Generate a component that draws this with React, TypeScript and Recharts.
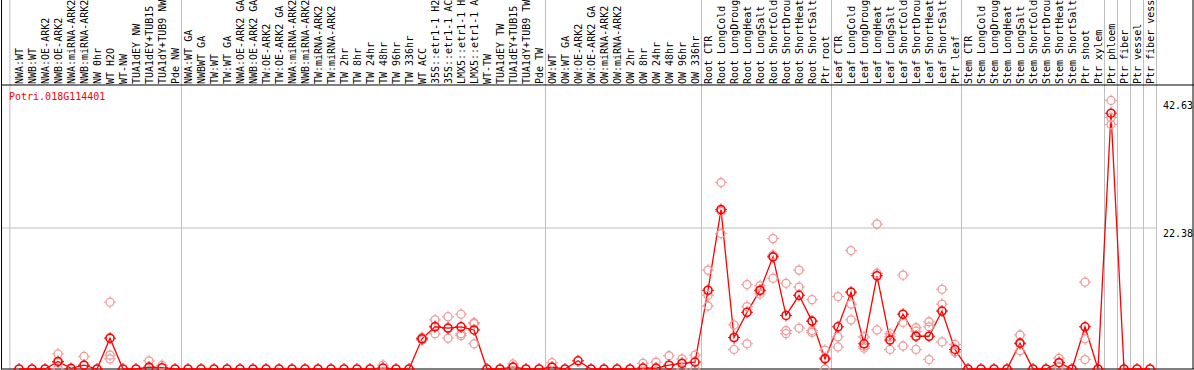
import { ComposedChart, Line, Scatter, XAxis, YAxis, ReferenceLine } from "recharts";

const n = null;

const CATEGORIES = [
  "NWA:WT", "NWB:WT", "NWA:OE-ARK2", "NWB:OE-ARK2", "NWA:miRNA-ARK2", "NWB:miRNA-ARK2", "NW 0hr", "WT H2O", "WT-NW",
  "TUA1dEY NW", "TUA1dEY+TUB15 NW", "TUA1dY+TUB9 NW", "Pde NW",
  "NWA:WT GA", "NWBWT GA", "TW:WT", "TW:WT GA", "NWA:OE-ARK2 GA", "NWB:OE-ARK2 GA", "TW:OE-ARK2", "TW:OE-ARK2 GA",
  "NWA:miRNA-ARK2", "NWB:miRNA-ARK2", "TW:miRNA-ARK2", "TW:miRNA-ARK2", "TW 2hr", "TW 8hr", "TW 24hr", "TW 48hr",
  "TW 96hr", "TW 336hr", "WT ACC", "35S::etr1-1 H2O", "35S::etr1-1 ACC", "LMX5::etr1-1 H2O", "LMX5::etr1-1 ACC",
  "WT-TW", "TUA1dEY TW", "TUA1dEY+TUB15 TW", "TUA1dY+TUB9 TW", "Pde TW",
  "OW:WT", "OW:WT GA", "OW:OE-ARK2", "OW:OE-ARK2 GA", "OW:miRNA-ARK2", "OW:miRNA-ARK2", "OW 2hr", "OW 8hr",
  "OW 24hr", "OW 48hr", "OW 96hr", "OW 336hr",
  "Root CTR", "Root LongCold", "Root LongDrought", "Root LongHeat", "Root LongSalt", "Root ShortCold",
  "Root ShortDrought", "Root ShortHeat", "Root ShortSalt", "Ptr root",
  "Leaf CTR", "Leaf LongCold", "Leaf LongDrought", "Leaf LongHeat", "Leaf LongSalt", "Leaf ShortCold",
  "Leaf ShortDrought", "Leaf ShortHeat", "Leaf ShortSalt", "Ptr leaf",
  "Stem CTR", "Stem LongCold", "Stem LongDrought", "Stem LongHeat", "Stem LongSalt", "Stem ShortCold",
  "Stem ShortDrought", "Stem ShortHeat", "Stem ShortSalt", "Ptr shoot",
  "Ptr xylem", "Ptr phloem", "Ptr fiber", "Ptr vessel", "Ptr fiber vessel",
];

const MEAN = [
  0, 0, 0, 1.2, 0.1, 0.6, 0, 4.9, 0, 0, 0.3, 0.2, 0,
  0, 0, 0, 0, 0, 0, 0, 0, 0, 0, 0, 0, 0, 0, 0,
  0.15, 0, 0, 4.8, 6.7, 6.5, 6.7, 6.2, 0, 0, 0.3, 0, 0,
  0.3, 0, 1.3, 0, 0, 0, 0, 0.15, 0.15, 0.6, 0.9, 1.1,
  12.5, 25.3, 5.0, 9.0, 12.5, 17.8, 8.5, 11.7, 7.6, 1.6,
  6.7, 12.2, 4.0, 14.8, 4.6, 8.7, 5.2, 5.2, 9.2, 3.1,
  0, 0, 0, 0, 4.1, 0, 0, 1.0, 0, 6.7,
  0, 40.6, 0, 0, 0,
];

const REP_A = [
  n, n, n, 2.4, n, 2.0, n, 10.6, n, n, 1.3, 0.6, n,
  n, n, n, n, n, n, n, n, n, n, n, n, n, n, n,
  0.6, n, n, 5.0, 7.8, 8.3, 8.7, 7.35, n, n, 0.8, n, n,
  1.0, n, n, n, n, n, n, 0.9, 1.1, 2.1, 1.6, 2.2,
  15.7, 29.6, 7.0, 13.4, 13.2, 20.7, 13.6, 15.7, 11.0, 3.0,
  11.5, 18.8, 5.1, 23.0, 5.6, 14.9, 6.55, 7.5, 12.65, 3.9,
  n, n, n, n, 5.4, n, n, 1.7, n, 13.8,
  n, 42.63, n, n, n,
];

const REP_B = [
  n, n, n, 1.0, n, n, n, 2.2, n, n, n, n, n,
  n, n, n, n, n, n, n, n, n, n, n, n, n, n, n,
  n, n, n, 4.7, 6.8, 6.4, 5.6, 7.2, n, n, n, n, n,
  n, n, n, n, n, n, n, n, n, n, 0, 0,
  11.7, 25.0, 5.0, 9.9, 11.9, 18.1, 6.1, 13.0, 6.1, 1.8,
  5.1, 10.3, 3.6, 15.2, 5.1, 7.4, 6.0, 6.7, 10.3, 2.7,
  n, n, n, n, 4.0, n, n, 1.0, n, 4.8,
  n, 39.9, n, n, n,
];

const REP_C = [
  n, n, n, 0.1, n, n, n, 1.6, n, n, n, n, n,
  n, n, n, n, n, n, n, n, n, n, n, n, n, n, n,
  n, n, n, 4.6, 5.6, 4.9, 5.3, 4.0, n, n, n, n, n,
  n, n, n, n, n, n, n, n, n, n, n, n,
  10.0, 21.5, 3.1, 4.0, 12.4, 14.4, 5.6, 6.5, 5.8, 0,
  3.5, 7.8, 3.3, 6.2, 3.1, 3.65, 3.1, 1.5, 4.3, 2.7,
  n, n, n, n, 2.9, n, n, 0.3, n, 1.5,
  n, 38.8, n, n, n,
];

const Y_TICKS = [0, 22.38, 42.63];
// group separators, in category-index units
const SEPARATORS = [-0.7, 12.5, 40.5, 52.5, 62.5, 72.5, 83.5, 84.5, 85.5, 86.5, 87.5];

const W = 1194;
const H = 370;
const STEP = 13;
const X_MIN = -18 / STEP;
const X_MAX = X_MIN + 1156 / STEP;
const Y_MAX = 369 / 6.3;
const LABEL_CHARS = 14; // header row only fits 14 characters
const FONT = "'DejaVu Sans Mono', monospace";
const RED = "#ff0000";
const PINK = "#f09a9a";

const data = MEAN.map((m, i) => ({ i, mean: m }));
const reps = [REP_A, REP_B, REP_C].map((arr) =>
  arr.map((v, i) => ({ i, v })).filter((d) => d.v != null)
);

function Ring({ cx, cy, color, w }: { cx: number; cy: number; color: string; w: number }) {
  if (cx == null || cy == null) return null;
  return (
    <g>
      <circle cx={cx} cy={cy} r={4} fill="none" stroke={color} strokeWidth={w} />
      <path
        d={`M${cx} ${cy - 6}v2M${cx} ${cy + 4}v2M${cx - 6} ${cy}h2M${cx + 4} ${cy}h2`}
        stroke={color}
        strokeWidth={1}
      />
    </g>
  );
}

function CatTick({ x, payload }: any) {
  const tx = x + 4;
  const ty = 84;
  return (
    <text x={tx} y={ty} transform={`rotate(-90 ${tx} ${ty})`} fontFamily={FONT} fontSize={10} fill="#000">
      {CATEGORIES[payload.value].slice(0, LABEL_CHARS)}
    </text>
  );
}

function ValTick({ y, payload }: any) {
  return (
    <text x={1163} y={payload.value === 0 ? y - 3 : y + 9} fontFamily={FONT} fontSize={10} fill="#000">
      {String(payload.value)}
    </text>
  );
}

export default function App() {
  return (
    <div style={{ position: "absolute", left: 0, top: 0, width: W, height: H, background: "#fff" }}>
      <ComposedChart width={W} height={H} data={data} margin={{ top: 0, right: 0, bottom: 0, left: 1 }}>
        <XAxis
          dataKey="i"
          type="number"
          domain={[X_MIN, X_MAX]}
          ticks={MEAN.map((_, i) => i)}
          interval={0}
          height={1}
          axisLine={false}
          tickLine={false}
          tick={<CatTick />}
        />
        <YAxis
          orientation="right"
          type="number"
          domain={[0, Y_MAX]}
          ticks={Y_TICKS}
          width={37}
          axisLine={false}
          tickLine={false}
          tick={<ValTick />}
        />
        <ReferenceLine y={22.38} stroke="#c0c0c0" />
        {SEPARATORS.map((s) => (
          <ReferenceLine key={s} x={s} stroke="#c0c0c0" />
        ))}
        <ReferenceLine
          segment={[{ x: X_MIN, y: 45.08 }, { x: 90.5, y: 45.08 }]}
          stroke="#000"
          ifOverflow="visible"
        />
        <ReferenceLine
          segment={[{ x: X_MIN, y: 0 }, { x: 90.5, y: 0 }]}
          stroke="#000"
          ifOverflow="visible"
        />
        <ReferenceLine x={X_MIN + 0.04} stroke="#000" />
        <ReferenceLine
          segment={[{ x: 90.31, y: 0 }, { x: 90.31, y: Y_MAX }]}
          stroke="#000"
          ifOverflow="visible"
        />
        {reps.map((r, k) => (
          <Scatter
            key={k}
            data={r}
            dataKey="v"
            isAnimationActive={false}
            shape={(p: any) => <Ring cx={p.cx} cy={p.cy} color={PINK} w={1.3} />}
          />
        ))}
        <Line
          dataKey="mean"
          stroke={RED}
          strokeWidth={1.3}
          isAnimationActive={false}
          dot={(p: any) => <Ring key={p.index} cx={p.cx} cy={p.cy} color={RED} w={1.6} />}
          activeDot={false}
        />
      </ComposedChart>
      <div
        style={{
          position: "absolute",
          left: 9,
          top: 92,
          fontFamily: FONT,
          fontSize: 10,
          lineHeight: "10px",
          color: RED,
          whiteSpace: "nowrap",
        }}
      >
        Potri.018G114401
      </div>
    </div>
  );
}
